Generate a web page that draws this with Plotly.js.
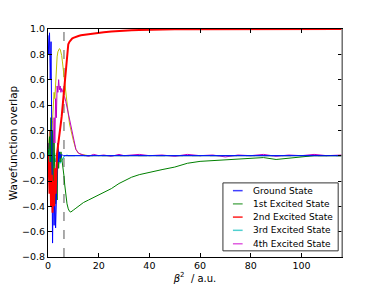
<!DOCTYPE html>
<html><head><meta charset="utf-8">
<script src="https://cdn.plot.ly/plotly-3.0.1.min.js"></script>
<style>html,body{margin:0;padding:0;background:#fff}#plot{width:380px;height:285px}</style>
</head><body><div id="plot"></div>
<script>
const beta2 = [0,0.3,0.6,0.9,1.2,1.5,1.8,2.1,2.4,2.7,3.0,3.3,3.6,3.9,4.2,4.5,4.8,5.1,5.4,5.7,6.0,6.3,6.6,7.0,7.5,8,8.5,9,9.5,10,11,12,13,14,16,18,20,22,25,28,30,33,36,40,45,50,55,60,65,70,75,80,85,90,95,100,105,110,116];
const groundState = [0.95,0.8,0.97,0.6,0.9,-0.3,-0.69,-0.2,-0.55,-0.3,-0.57,-0.35,-0.1,0.1,-0.05,0.03,-0.02,0.01,0,0.005,0,0,0.005,0,0,0,0,0,0,0,0,0,0,0,0,0,0.005,0,0,0,0,0,0,0,0,0,0,0,0,0,0,0,0,0,0,0,0,0,0];
const excited1 = [0,0.05,0.15,-0.1,0.3,-0.2,0.2,-0.3,0.1,-0.25,-0.38,-0.1,-0.35,0.05,-0.1,0.02,-0.05,0.03,-0.02,-0.04,-0.08,-0.16,-0.23,-0.31,-0.38,-0.42,-0.44,-0.445,-0.44,-0.43,-0.415,-0.4,-0.385,-0.37,-0.35,-0.33,-0.31,-0.29,-0.26,-0.22,-0.2,-0.17,-0.15,-0.13,-0.11,-0.09,-0.06,-0.045,-0.04,-0.03,-0.025,-0.02,-0.015,-0.03,-0.02,-0.01,0,0,0];
const excited2 = [0,-0.1,-0.3,-0.05,-0.4,-0.15,-0.45,-0.2,-0.4,-0.1,-0.3,0,0.02,0.07,0.11,0.15,0.2,0.26,0.31,0.38,0.45,0.52,0.6,0.7,0.8,0.88,0.9,0.915,0.925,0.93,0.94,0.945,0.95,0.953,0.96,0.965,0.97,0.975,0.98,0.985,0.987,0.99,0.992,0.995,0.997,0.998,0.999,0.999,1,1,1,1,1,1,1,1,1,1,1];
const excited3 = [0,0.05,-0.05,0.1,-0.1,0.03,-0.05,0.02,-0.08,-0.02,-0.05,0.02,-0.06,-0.03,-0.05,-0.04,-0.06,-0.05,-0.04,-0.03,-0.02,-0.01,0,0,0.005,0,0,0,0,0,0,0,0,0,0,0,0,0,0,0,0,0,0,0,0,0,0,0,0,0,0,0,0,0,0,0,0,0,0];
const excited4 = [0,0.1,-0.1,0.2,-0.05,0.15,-0.2,0.05,0.3,0.1,0.45,0.3,0.55,0.5,0.6,0.52,0.55,0.5,0.53,0.51,0.5,0.47,0.46,0.43,0.38,0.33,0.27,0.22,0.17,0.12,0.05,0.02,0.01,0.005,-0.005,0.01,0,0.005,-0.005,0.01,0,0.005,0.01,0,0.005,-0.005,0.01,0,0.005,-0.01,0.005,0,0.01,-0.005,0.005,0,0.01,0,0.005];
const excited5 = [0,0.05,0.2,0.1,0.3,0.15,0.28,0.4,0.5,0.45,0.6,0.7,0.78,0.82,0.84,0.845,0.84,0.82,0.79,0.74,0.68,0.62,0.57,0.5,0.42,0.33,0.25,0.2,0.16,0.12,0.05,0.02,0.01,0.005,0,0,0,0.005,0,0,0,0,0,0,0,0,0,0,0,0,0,0,0,0,0,0,0,0,0];
const seriesNames = ['Ground State','1st Excited State','2nd Excited State','3rd Excited State','4th Excited State'];
const seriesColors = ['#0000ff','#008000','#ff0000','#00bfbf','#bf00bf'];
const legendColors = ['#4040ff','#60b060','#ff2020','#50d0d0','#e060e0'];
const dashX = 6.3;

const mk = (y, name, color, w) => ({x: beta2, y: y, name: name, type: 'scatter', mode: 'lines',
  line: {color: color, width: w}, showlegend: false});
const data = [
  mk(excited5, '5th Excited State', '#bfbf00', 1),
  mk(excited4, seriesNames[4], seriesColors[4], 1),
  mk(excited3, seriesNames[3], seriesColors[3], 1),
  mk(excited1, seriesNames[1], seriesColors[1], 1),
  mk(groundState, seriesNames[0], seriesColors[0], 1),
  mk(excited2, seriesNames[2], seriesColors[2], 2)
];

// compact legend (matplotlib style), built from the series names/colours
const shapes = [
  {type: 'line', xref: 'x', yref: 'paper', x0: dashX, x1: dashX, y0: 0, y1: 1, line: {color: '#555', width: 1, dash: 'dash'}, layer: 'below'},
  {type: 'line', xref: 'paper', yref: 'y', x0: 0, x1: 1, y0: 0, y1: 0, line: {color: '#555', width: 1, dash: 'dash'}, layer: 'below'},
  {type: 'line', xref: 'paper', yref: 'paper', x0: 1, x1: 1, y0: 0, y1: 1, line: {color: '#999', width: 1.5}, layer: 'above'},
  {type: 'rect', xref: 'paper', yref: 'paper', x0: 0.595, x1: 0.987, y0: 0.027, y1: 0.325, fillcolor: '#fff', line: {color: '#333', width: 1}, layer: 'above'}
];
const annotations = [];
const entryY = [0.291, 0.233, 0.175, 0.117, 0.058];
seriesNames.forEach((n, i) => {
  shapes.push({type: 'line', xref: 'paper', yref: 'paper', x0: 0.629, x1: 0.662, y0: entryY[i], y1: entryY[i],
    line: {color: legendColors[i], width: 1.5}, layer: 'above'});
  annotations.push({xref: 'paper', yref: 'paper', x: 0.69, y: entryY[i], xanchor: 'left', yanchor: 'middle',
    text: n, showarrow: false, font: {family: 'DejaVu Sans', size: 9, color: '#000'}});
});

const font = {family: 'DejaVu Sans', size: 9.5, color: '#000'};
const layout = {
  width: 380, height: 285,
  margin: {l: 48, r: 38, t: 29, b: 28},
  paper_bgcolor: '#fff', plot_bgcolor: '#fff',
  font: font,
  xaxis: {range: [0, 116], tickvals: [0,20,40,60,80,100], ticks: 'inside', ticklen: 4, tickcolor: '#000',
    showline: true, linecolor: '#000', linewidth: 1, mirror: 'ticks', showgrid: false, zeroline: false,
    title: {text: '<i>β</i><sup>2</sup>  / a.u.', font: {family: 'DejaVu Sans', size: 10}, standoff: 2}},
  yaxis: {range: [-0.8, 1.0], tickvals: [-0.8,-0.6,-0.4,-0.2,0,0.2,0.4,0.6,0.8,1.0], tickformat: '.1f',
    ticks: 'inside', ticklen: 4, tickcolor: '#000', showline: true, linecolor: '#000', linewidth: 1,
    mirror: 'ticks', showgrid: false, zeroline: false,
    title: {text: 'Wavefunction overlap', font: {family: 'DejaVu Sans', size: 10.5}, standoff: 2}},
  shapes: shapes,
  annotations: annotations,
  showlegend: false
};
Plotly.newPlot('plot', data, layout, {displayModeBar: false, staticPlot: true});
</script></body></html>
